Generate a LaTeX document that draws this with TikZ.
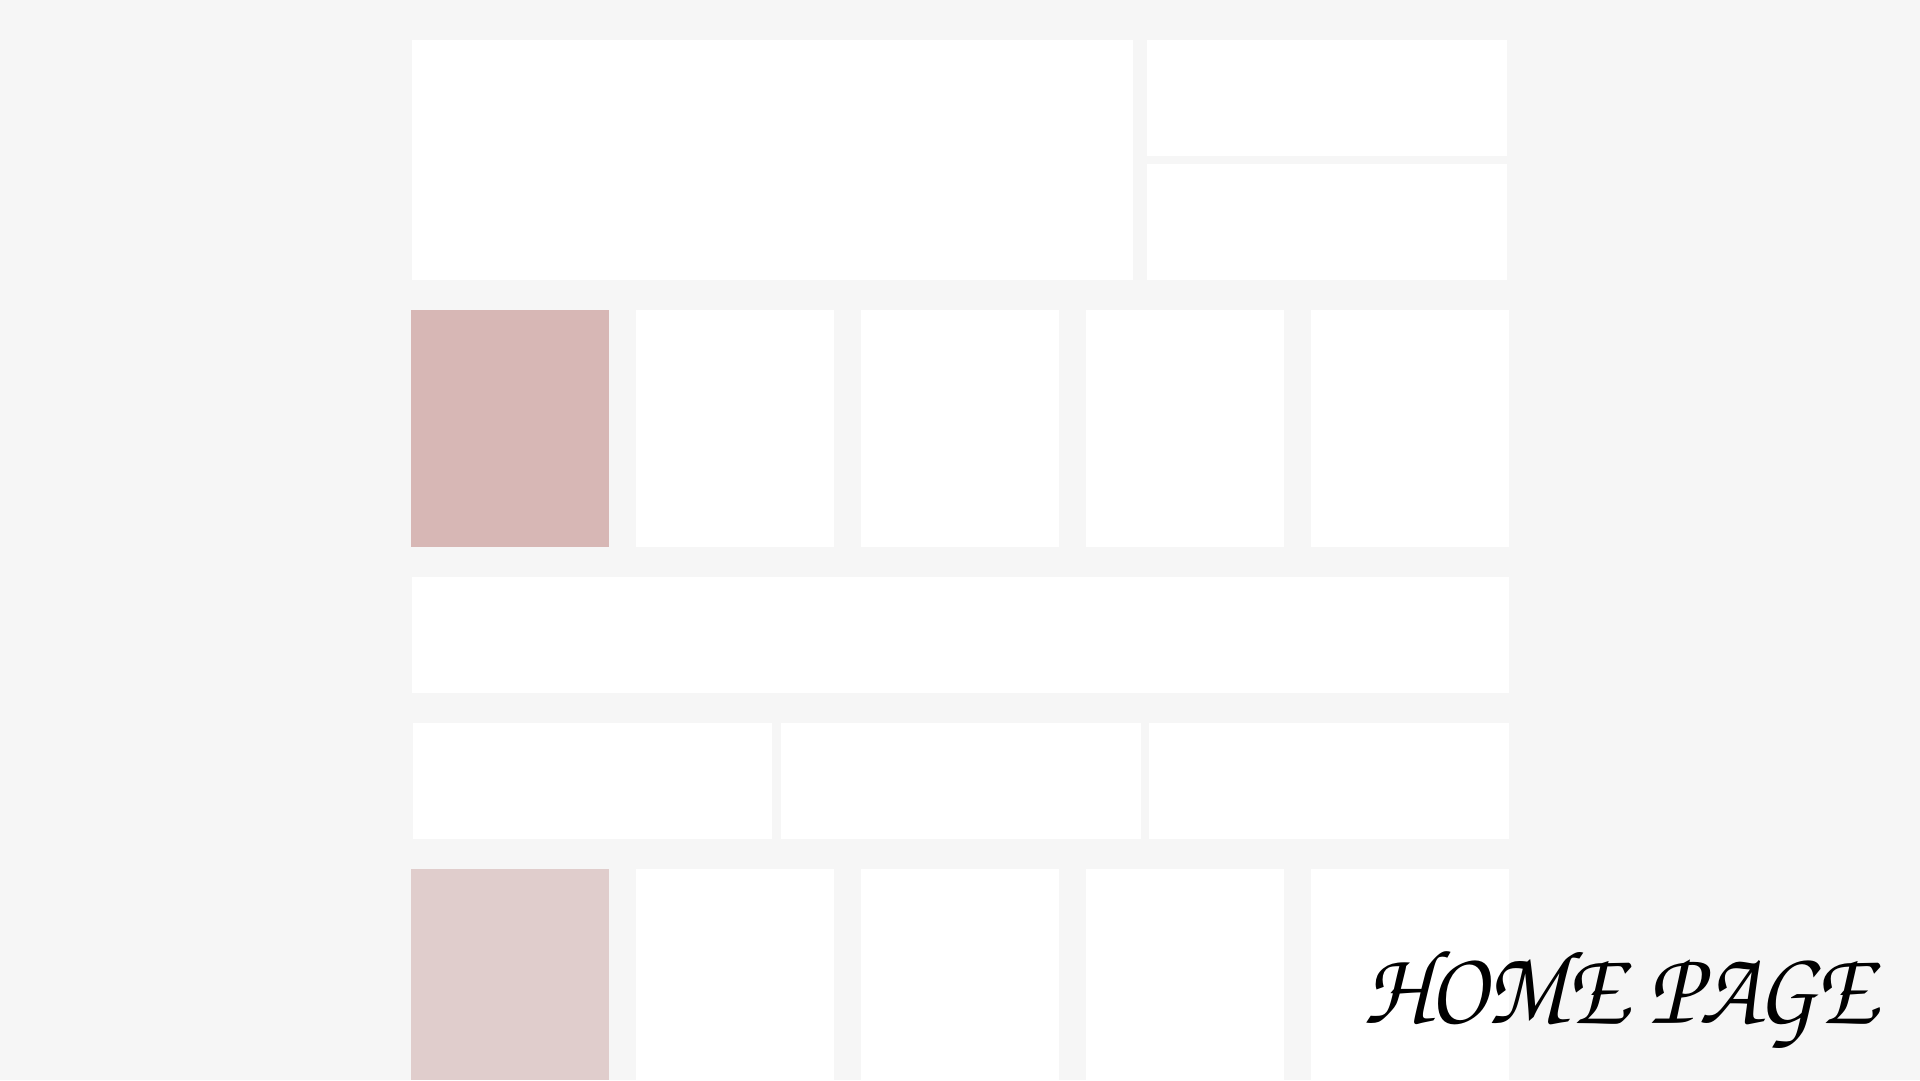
\documentclass[tikz,border=0pt]{standalone}
\usepackage[T1]{fontenc}
\definecolor{pagebg}{HTML}{F6F6F6}
\definecolor{rose}{HTML}{D7B7B5}
\definecolor{roselight}{HTML}{E0CDCC}
\tikzset{
  card/.style={fill=white},
  rosecard/.style={fill=rose},
  lightcard/.style={fill=roselight},
  titlefont/.style={font=\fontencoding{T1}\fontfamily{pzc}\fontseries{mb}\fontshape{it}\fontsize{106}{112}\selectfont}
}
\begin{document}
\begin{tikzpicture}[x=1pt,y=-1pt]
\fill[pagebg] (0,0) rectangle (1920,1080);
\useasboundingbox (0,0) rectangle (1920,1080);
% row 1
\path[card] (412,40) rectangle (1133,280);
\path[card] (1147,40) rectangle (1507,156);
\path[card] (1147,164) rectangle (1507,280);
% row 2
\path[rosecard] (411,310) rectangle (609,547);
\path[card] (636,310) rectangle (834,547);
\path[card] (861,310) rectangle (1059,547);
\path[card] (1086,310) rectangle (1284,547);
\path[card] (1311,310) rectangle (1509,547);
% row 3
\path[card] (412,577) rectangle (1509,693);
% row 4
\path[card] (413,723) rectangle (772,839);
\path[card] (781,723) rectangle (1141,839);
\path[card] (1149,723) rectangle (1509,839);
% row 5
\path[lightcard] (411,869) rectangle (609,1080);
\path[card] (636,869) rectangle (834,1080);
\path[card] (861,869) rectangle (1059,1080);
\path[card] (1086,869) rectangle (1284,1080);
\path[card] (1311,869) rectangle (1509,1080);
% title
\node[titlefont, anchor=base west, inner sep=0pt, xscale=0.91] (title) at (1363,1023) {HOME PAGE};
\end{tikzpicture}
\end{document}
